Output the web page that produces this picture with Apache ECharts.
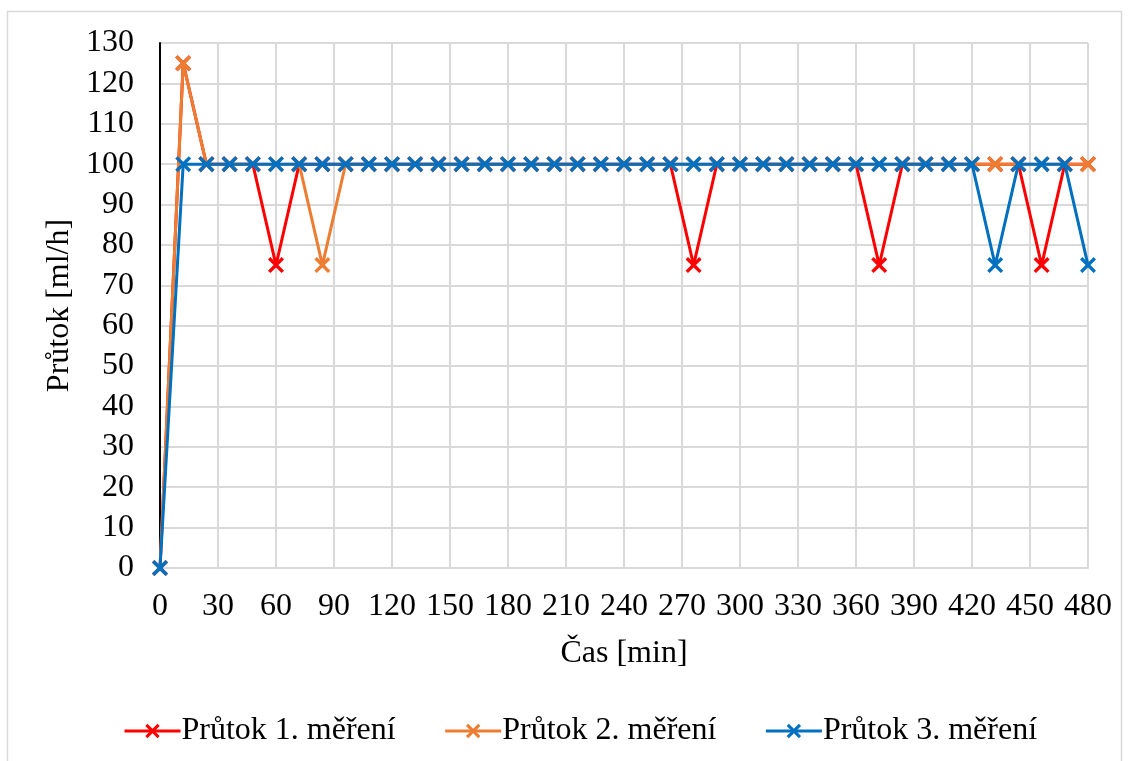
<!DOCTYPE html>
<html>
<head>
<meta charset="utf-8">
<script src="https://cdn.jsdelivr.net/npm/echarts@6/dist/echarts.min.js"></script>
<style>
  html, body { margin: 0; padding: 0; background: #fff; }
  #chart { width: 1132px; height: 761px; }
</style>
</head>
<body>
<div id="chart"></div>
<script>
// Time of each reading [min]
const times = [0,12,24,36,48,60,72,84,96,108,120,132,144,156,168,180,192,204,216,228,240,
               252,264,276,288,300,312,324,336,348,360,372,384,396,408,420,432,444,456,468,480];

// Flow rate [ml/h] for each measurement run
const run1 = [0,125,100,100,100,75,100,100,100,100,100,100,100,100,100,100,100,100,100,100,100,
              100,100,75,100,100,100,100,100,100,100,75,100,100,100,100,100,100,75,100,100];
const run2 = [0,125,100,100,100,100,100,75,100,100,100,100,100,100,100,100,100,100,100,100,100,
              100,100,100,100,100,100,100,100,100,100,100,100,100,100,100,100,100,100,100,100];
const run3 = [0,100,100,100,100,100,100,100,100,100,100,100,100,100,100,100,100,100,100,100,100,
              100,100,100,100,100,100,100,100,100,100,100,100,100,100,100,75,100,100,100,75];

const seriesNames = ['Průtok 1. měření', 'Průtok 2. měření', 'Průtok 3. měření'];
const seriesColors = ['#FF0000', '#ED7D31', '#0070C0'];
const seriesValues = [run1, run2, run3];

const FONT = '"Liberation Serif", "Times New Roman", serif';
const FS = 32;
// filled "x" marker
const CROSS = 'path://M0,1.5L1.5,0L5,3.5L8.5,0L10,1.5L6.5,5L10,8.5L8.5,10L5,6.5L1.5,10L0,8.5L3.5,5Z';

const chart = echarts.init(document.getElementById('chart'), null, { renderer: 'canvas' });

chart.setOption({
  animation: false,
  backgroundColor: '#fff',
  graphic: [{
    type: 'rect',
    shape: { x: 7.5, y: 11.5, width: 1114, height: 780 },
    style: { fill: 'none', stroke: '#D9D9D9', lineWidth: 1.5 },
    silent: true
  }],
  grid: { left: 160, right: 44, top: 43, bottom: 193, containLabel: false },
  legend: {
    left: 118,
    top: 710,
    itemWidth: 56,
    itemHeight: 18,
    itemGap: 48,
    lineStyle: { width: 3 },
    textStyle: { fontFamily: FONT, fontSize: FS, color: '#000', padding: [0, 0, 0, -4] },
    data: seriesNames
  },
  xAxis: {
    type: 'value',
    min: 0, max: 480, interval: 30,
    name: 'Čas [min]',
    nameLocation: 'middle',
    nameGap: 70,
    nameTextStyle: { fontFamily: FONT, fontSize: FS, color: '#000' },
    axisLine: { show: true, lineStyle: { color: '#D9D9D9', width: 2 } },
    axisTick: { show: false },
    axisLabel: { fontFamily: FONT, fontSize: FS, color: '#000', margin: 23 },
    splitLine: { show: true, lineStyle: { color: '#D9D9D9', width: 2 } }
  },
  yAxis: {
    type: 'value',
    min: 0, max: 130, interval: 10,
    name: 'Průtok [ml/h]',
    nameLocation: 'middle',
    nameGap: 82,
    nameRotate: 90,
    nameTextStyle: { fontFamily: FONT, fontSize: FS, color: '#000' },
    axisLine: { show: true, onZero: false, lineStyle: { color: '#000', width: 2 } },
    axisTick: { show: false },
    axisLabel: { fontFamily: FONT, fontSize: FS, color: '#000', margin: 26 },
    splitLine: { show: true, lineStyle: { color: '#D9D9D9', width: 2 } }
  },
  series: seriesNames.map((name, i) => ({
    name: name,
    type: 'line',
    data: times.map((t, k) => [t, seriesValues[i][k]]),
    symbol: CROSS,
    symbolSize: 16,
    showAllSymbol: true,
    color: seriesColors[i],
    lineStyle: { width: 3, color: seriesColors[i] },
    itemStyle: { color: seriesColors[i], borderWidth: 0 },
    z: 2 + i
  }))
});
</script>
</body>
</html>
